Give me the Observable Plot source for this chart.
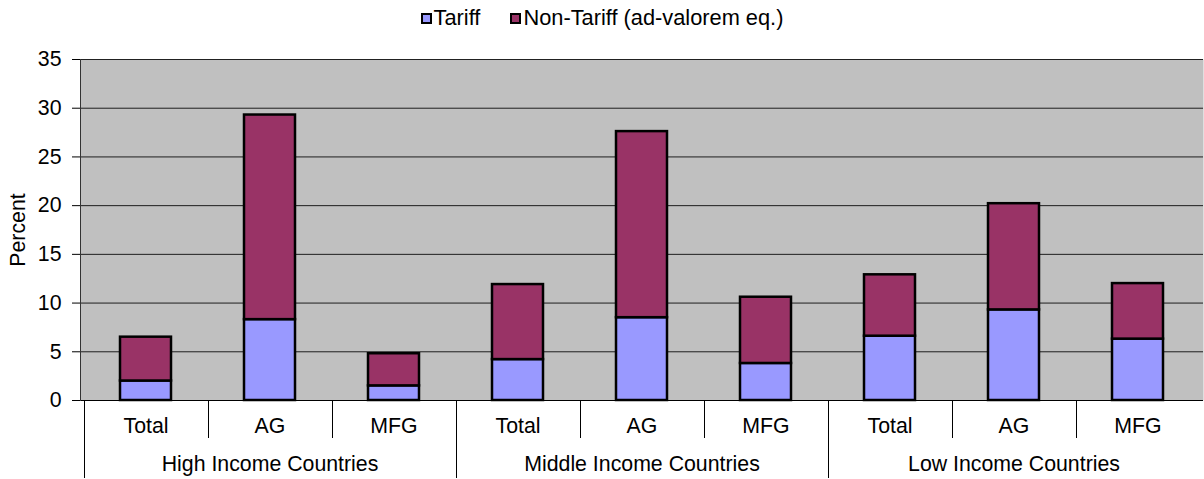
<!DOCTYPE html>
<html>
<head>
<meta charset="utf-8">
<script src="https://cdn.jsdelivr.net/npm/d3@7"></script>
<script src="https://cdn.jsdelivr.net/npm/@observablehq/plot@0.6"></script>
<style>
  body { margin: 0; background: #fff; font-family: "Liberation Sans", Arial, sans-serif; }
  #legend { height: 36px; display: flex; justify-content: center; align-items: center; font-size: 21.8px; color: #000; margin-bottom: 4px; }
  .item { display: flex; align-items: center; }
  .item + .item { margin-left: 30px; }
  .sw { width: 7px; height: 7px; border: 2px solid #000; margin-right: 2px; }
  #chart svg { display: block; }
</style>
</head>
<body>
<div id="legend"></div>
<div id="chart"></div>
<script>
// ---- data ----
const groups = ["High Income Countries", "Middle Income Countries", "Low Income Countries"];
const subcats = ["Total", "AG", "MFG"];
const series = ["Tariff", "Non-Tariff (ad-valorem eq.)"];
const colors = ["#9999FF", "#993366"];
const tariff    = [2.0, 8.3, 1.5, 4.2, 8.5, 3.8, 6.6, 9.3, 6.3];
const nonTariff = [4.5, 21.0, 3.3, 7.7, 19.1, 6.8, 6.3, 10.9, 5.7];
const yTicks = [0, 5, 10, 15, 20, 25, 30, 35];

// ---- table ----
const keys = groups.flatMap(g => subcats.map(s => g + "|" + s));
const rows = [];
keys.forEach((k, i) => {
  rows.push({key: k, series: series[0], value: tariff[i]});
  rows.push({key: k, series: series[1], value: nonTariff[i]});
});

// ---- legend ----
const legend = document.getElementById("legend");
series.forEach((s, i) => {
  const it = document.createElement("div");
  it.className = "item";
  const sw = document.createElement("span");
  sw.className = "sw";
  sw.style.background = colors[i];
  const tx = document.createElement("span");
  tx.textContent = s;
  it.appendChild(sw); it.appendChild(tx);
  legend.appendChild(it);
});

// separators between categories below the axis
function separators(index, scales, values, dimensions) {
  const sx = scales.x;
  let step, bw;
  if (typeof sx.step === "function") { step = sx.step(); bw = sx.bandwidth(); }
  else { step = sx(keys[1]) - sx(keys[0]); bw = 0; }
  const y0 = dimensions.height - dimensions.marginBottom;
  const g = d3.create("svg:g").attr("stroke", "#000").attr("stroke-width", 1);
  keys.forEach((k, i) => {
    const xb = Math.round(sx(k) + bw / 2 - step / 2) + 0.5;
    const len = (i % subcats.length === 0) ? 78 : 38;
    g.append("line").attr("x1", xb).attr("x2", xb).attr("y1", y0).attr("y2", y0 + len);
  });
  return g.node();
}

const plot = Plot.plot({
  width: 1204,
  height: 439,
  marginTop: 19,
  marginBottom: 79,
  marginLeft: 80,
  marginRight: 1,
  style: {fontFamily: '"Liberation Sans", Arial, sans-serif', fontSize: "21.3px", background: "#fff", color: "#000", overflow: "visible"},
  x: {domain: keys, paddingInner: 0.59, paddingOuter: 0.295, axis: null},
  y: {domain: [0, 35], axis: null},
  color: {domain: series, range: colors},
  marks: [
    Plot.frame({fill: "#c0c0c0", stroke: null}),
    Plot.gridY(yTicks.filter(v => v > 0), {stroke: "#000", strokeOpacity: 0.85, strokeWidth: 1}),
    Plot.ruleY([0], {stroke: "#000"}),
    Plot.barY(rows, {x: "key", y: "value", fill: "series", stroke: "#000", strokeWidth: 2.5}),
    Plot.axisY(yTicks, {tickSize: 8, tickPadding: 11, fontSize: 21.3, label: null}),
    Plot.frame({anchor: "left", stroke: "#333"}),
    Plot.text(keys, {x: d => d, text: d => d.split("|")[1], frameAnchor: "bottom", lineAnchor: "middle", dy: 26, fontSize: 21.3, fill: "#000"}),
    Plot.text(groups, {x: g => g + "|" + subcats[1], text: g => g, frameAnchor: "bottom", lineAnchor: "middle", dy: 64, fontSize: 21.3, fill: "#000"}),
    separators,
    Plot.text(["Percent"], {frameAnchor: "left", textAnchor: "middle", lineAnchor: "middle", rotate: -90, dx: -62, text: d => d, fontSize: 21.3, fill: "#000"})
  ]
});
document.getElementById("chart").appendChild(plot);
</script>
</body>
</html>
